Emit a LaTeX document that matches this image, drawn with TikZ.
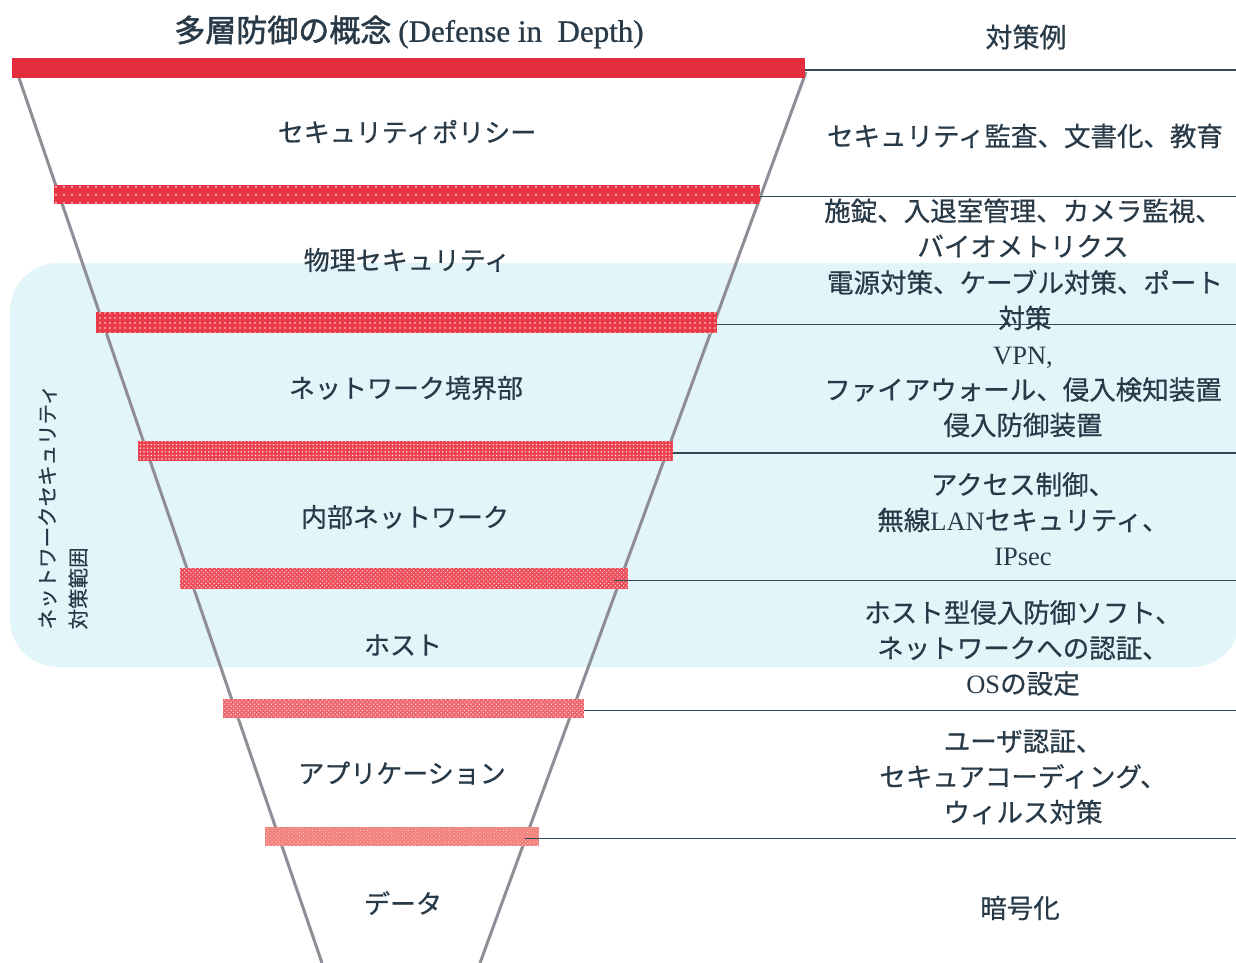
\documentclass[tikz,border=0pt]{standalone}
\usepackage{fontspec}
\setmainfont{Noto Sans CJK JP}[FakeBold=0.6]
\newfontfamily\jpbold{Noto Sans CJK JP}[FakeBold=1.6]
\newfontfamily\lat{Liberation Serif}
\newfontfamily\latb{Liberation Serif}[FakeBold=0.8]
\usetikzlibrary{patterns.meta}
\definecolor{txt}{RGB}{40,58,72}
\definecolor{netbg}{RGB}{226,246,250}
\definecolor{funnelc}{RGB}{145,141,150}
\definecolor{connc}{RGB}{50,74,88}
\definecolor{redA}{RGB}{230,45,62}
\definecolor{redB}{RGB}{232,52,68}
\definecolor{redC}{RGB}{234,58,72}
\definecolor{redD}{RGB}{236,66,80}
\definecolor{redE}{RGB}{238,78,90}
\definecolor{redF}{RGB}{240,100,108}
\definecolor{redG}{RGB}{242,128,122}
\begin{document}
\begin{tikzpicture}[x=1pt,y=-1pt,
  lay/.style={text=txt, font=\fontsize{26}{30}\selectfont, inner sep=0pt},
  mea/.style={text=txt, align=center, font=\fontsize{26.5}{35.5}\selectfont, inner sep=0pt},
  barbox/.style={draw=none, inner sep=0pt, outer sep=0pt, rectangle},
  funnel/.style={draw=funnelc, line width=3pt},
  conn/.style={draw=connc, line width=1.5pt}]
\useasboundingbox (0,0) rectangle (1236,963);
\fill[white] (0,0) rectangle (1236,963);
% network security zone
\fill[netbg, rounded corners=48pt] (10,263) rectangle (1240,667);
\fill[netbg] (1100,263) rectangle (1240,420);
\node[rotate=90, align=left, text=txt, font=\fontsize{20.5}{31}\selectfont, inner sep=0pt] (zone) at (63,507) {ネットワークセキュリティ\\対策範囲};
% funnel
\coordinate (LT) at (17,72);
\coordinate (LB) at (322,963);
\coordinate (RT) at (806,72);
\coordinate (RB) at (480,963);
\draw[funnel] (LT) -- (LB);
\draw[funnel] (RT) -- (RB);
% bars
\node[barbox, fill=redA, minimum width=793pt, minimum height=20pt] (b1) at (408.5,68) {};
\node[barbox, fill=redB, minimum width=706pt, minimum height=19pt,
  postaction={pattern={Dots[distance=8pt, radius=1pt]}, pattern color=white!85!redB}] (b2) at (407,194.5) {};
\node[barbox, fill=redC, minimum width=621pt, minimum height=21pt,
  postaction={pattern={Dots[distance=5pt, radius=0.9pt]}, pattern color=white!85!redC}] (b3) at (406.5,322.5) {};
\node[barbox, fill=redD, minimum width=535pt, minimum height=20pt,
  postaction={pattern={Dots[distance=3.6pt, radius=0.8pt]}, pattern color=white!85!redD}] (b4) at (405.5,451) {};
\node[barbox, fill=redE, minimum width=448pt, minimum height=21pt,
  postaction={pattern={Dots[distance=3pt, radius=0.75pt, angle=45]}, pattern color=white!80!redE}] (b5) at (404,578.5) {};
\node[barbox, fill=redF, minimum width=361pt, minimum height=19pt,
  postaction={pattern={Dots[distance=3pt, radius=0.8pt, angle=45]}, pattern color=white!75!redF}] (b6) at (403.5,708.5) {};
\node[barbox, fill=redG, minimum width=274pt, minimum height=19pt,
  postaction={pattern={Dots[distance=2.6pt, radius=0.6pt, angle=45]}, pattern color=white!60!redG}] (b7) at (402,836.5) {};
% connectors to the right edge
\coordinate (E) at (1236,0);
\foreach \b in {b1,b2,b3,b4,b6}{
  \draw[conn] ([yshift=-2pt]\b.east) -- ([yshift=-2pt]\b.east -| E);
}
\draw[conn] ([xshift=-14pt,yshift=-2pt]b5.east) -- ([yshift=-2pt]b5.east -| E);
\draw[conn] ([xshift=-14pt,yshift=-2pt]b7.east) -- ([yshift=-2pt]b7.east -| E);
% titles
\node[text=txt, inner sep=0pt, font=\fontsize{31}{33}\selectfont] (title) at (409,32) {{\jpbold 多層防御の概念} {\latb (Defense in\ \ Depth)}};
\node[mea, font=\fontsize{27}{30}\selectfont] (head) at (1026,37) {対策例};
% layer labels
\node[lay] (l1) at (407,132) {セキュリティポリシー};
\node[lay] (l2) at (407,260) {物理セキュリティ};
\node[lay] (l3) at (406,388) {ネットワーク境界部};
\node[lay] (l4) at (405,517) {内部ネットワーク};
\node[lay] (l5) at (403,645) {ホスト};
\node[lay] (l6) at (402,773) {アプリケーション};
\node[lay] (l7) at (403,903) {データ};
% measures
\node[mea] (m1) at (1025,136) {セキュリティ監査、文書化、教育};
\node[mea] (m2) at (1023,228) {施錠、入退室管理、カメラ監視、\\バイオメトリクス};
\node[mea] (m3) at (1025,300) {電源対策、ケーブル対策、ポート\\対策};
\node[mea] (m4) at (1023,392) {{\lat VPN,}\\ファイアウォール、侵入検知装置\\侵入防御装置};
\node[mea] (m5) at (1023,519) {アクセス制御、\\無線{\lat LAN}セキュリティ、\\{\lat IPsec}};
\node[mea] (m6) at (1023,648) {ホスト型侵入防御ソフト、\\ネットワークへの認証、\\{\lat OS}の設定};
\node[mea] (m7) at (1023,777) {ユーザ認証、\\セキュアコーディング、\\ウィルス対策};
\node[mea] (m8) at (1020,908) {暗号化};
\end{tikzpicture}
\end{document}
